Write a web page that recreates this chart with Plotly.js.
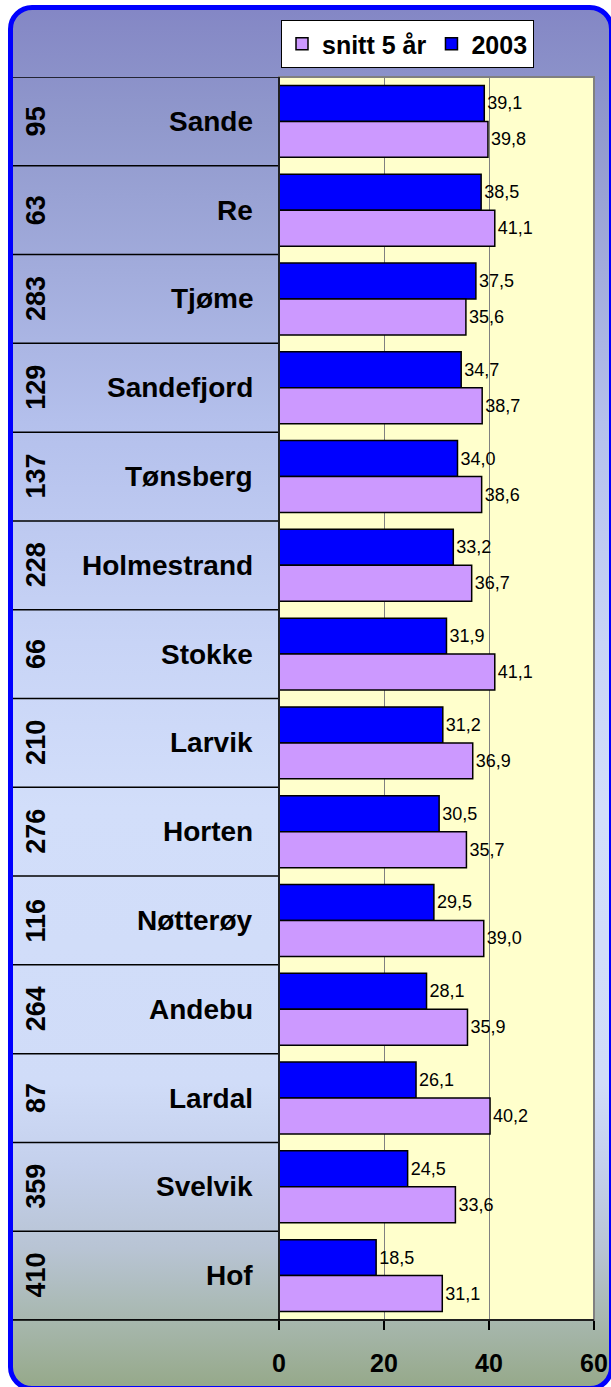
<!DOCTYPE html>
<html>
<head>
<meta charset="utf-8">
<script src="https://cdn.plot.ly/plotly-3.0.1.min.js"></script>
<style>
  html, body { margin: 0; padding: 0; width: 611px; height: 1387px; overflow: hidden; background: #ffffff; }
  #frame {
    position: absolute; left: 8px; top: 5px; width: 606px; height: 1386px;
    box-sizing: border-box; border: 5px solid #0000FF; border-radius: 24px;
    background: linear-gradient(to bottom, #8487C5 0%, #9098CC 8%, #B4C0EC 30%, #C8D4F6 46%, #D2DEFA 58%, #D0DCF8 78%, #C4D0EC 84%, #B8C4D4 90%, #A8B8B0 95%, #96A98A 100%);
  }
  #chart { position: absolute; left: 0; top: 0; width: 611px; height: 1387px; }
</style>
</head>
<body>
<div id="frame"></div>
<div id="chart"></div>
<script>
const kommuner = ["Sande", "Re", "Tjøme", "Sandefjord", "Tønsberg", "Holmestrand", "Stokke", "Larvik", "Horten", "Nøtterøy", "Andebu", "Lardal", "Svelvik", "Hof"];
const rangering = [95, 63, 283, 129, 137, 228, 66, 210, 276, 116, 264, 87, 359, 410];
const verdier2003 = [39.1, 38.5, 37.5, 34.7, 34.0, 33.2, 31.9, 31.2, 30.5, 29.5, 28.1, 26.1, 24.5, 18.5];
const snitt5aar = [39.8, 41.1, 35.6, 38.7, 38.6, 36.7, 41.1, 36.9, 35.7, 39.0, 35.9, 40.2, 33.6, 31.1];
const xTicks = [0, 20, 40, 60];
const seriesNames = ["2003", "snitt 5 år"];

const FONT = "'Liberation Sans', Arial, sans-serif";
const W = 611, H = 1387;
const mL = 279, mR = 17, mT = 77, mB = 67;
const plotW = W - mL - mR, plotH = H - mT - mB;
const leftEdge = (13 - mL) / plotW;

const common = {
  type: "bar", orientation: "h", y: kommuner,
  texttemplate: "%{x:.1f}", textposition: "outside",
  textfont: { family: FONT, size: 18, color: "#000000" },
  cliponaxis: false, constraintext: "none", hoverinfo: "skip"
};
const traces = [
  Object.assign({}, common, { x: verdier2003, name: seriesNames[0],
    marker: { color: "#0000FF", line: { color: "#000000", width: 1.5 } } }),
  Object.assign({}, common, { x: snitt5aar, name: seriesNames[1],
    marker: { color: "#CC99FF", line: { color: "#000000", width: 1.5 } } })
];

const shapes = [];
for (let i = 0; i <= kommuner.length; i++) {
  shapes.push({ type: "line", xref: "paper", yref: "y", x0: leftEdge, x1: 0,
    y0: i - 0.5, y1: i - 0.5, line: { color: "#000000", width: 1.5 }, layer: "above" });
}
shapes.push({ type: "rect", xref: "paper", yref: "paper", x0: 0, x1: 1, y0: 0, y1: 1,
  line: { color: "#808080", width: 2 }, layer: "above" });
shapes.push({ type: "line", xref: "paper", yref: "paper", x0: 0, x1: 0, y0: 0, y1: 1,
  line: { color: "#000000", width: 1.5 }, layer: "above" });
shapes.push({ type: "line", xref: "paper", yref: "paper", x0: leftEdge, x1: 1, y0: 0, y1: 0,
  line: { color: "#000000", width: 1.5 }, layer: "above" });

const annotations = [];
kommuner.forEach((k, i) => {
  annotations.push({ xref: "paper", yref: "y", x: (255 - mL) / plotW, y: i,
    xanchor: "right", yanchor: "middle", showarrow: false,
    text: "<b>" + k + "</b>", font: { family: FONT, size: 28, color: "#000000" } });
  annotations.push({ xref: "paper", yref: "y", x: (36 - mL) / plotW, y: i,
    xanchor: "center", yanchor: "middle", showarrow: false, textangle: -90,
    text: "<b>" + rangering[i] + "</b>", font: { family: FONT, size: 27, color: "#000000" } });
});

const layout = {
  width: W, height: H,
  margin: { l: mL, r: mR, t: mT, b: mB, pad: 0 },
  paper_bgcolor: "rgba(0,0,0,0)",
  plot_bgcolor: "#FFFFCC",
  separators: ", ",
  barmode: "group", bargap: 0.19, bargroupgap: 0,
  font: { family: FONT, color: "#000000" },
  showlegend: true,
  legend: {
    orientation: "h", x: (281 - mL) / plotW, xanchor: "left",
    y: (mT + plotH - 20) / plotH, yanchor: "top",
    bgcolor: "#FFFFFF", bordercolor: "#000000", borderwidth: 1,
    traceorder: "reversed",
    font: { family: FONT, size: 25, color: "#000000", weight: "bold" },
    itemwidth: 30
  },
  xaxis: {
    range: [0, 60], tickvals: xTicks, ticktext: xTicks.map(String),
    ticks: "outside", ticklen: 9, tickwidth: 1.5, tickcolor: "#000000",
    tickfont: { family: FONT, size: 25, color: "#000000", weight: "bold" },
    ticklabelstandoff: 12,
    showgrid: true, gridcolor: "#808080", gridwidth: 1,
    zeroline: false, showline: false, fixedrange: true
  },
  yaxis: {
    type: "category", categoryorder: "array", categoryarray: kommuner,
    range: [kommuner.length - 0.5, -0.5],
    showticklabels: false, ticks: "", showgrid: false, zeroline: false, showline: false,
    fixedrange: true
  },
  shapes: shapes,
  annotations: annotations
};

Plotly.newPlot("chart", traces, layout, { displayModeBar: false, staticPlot: true });
</script>
</body>
</html>
